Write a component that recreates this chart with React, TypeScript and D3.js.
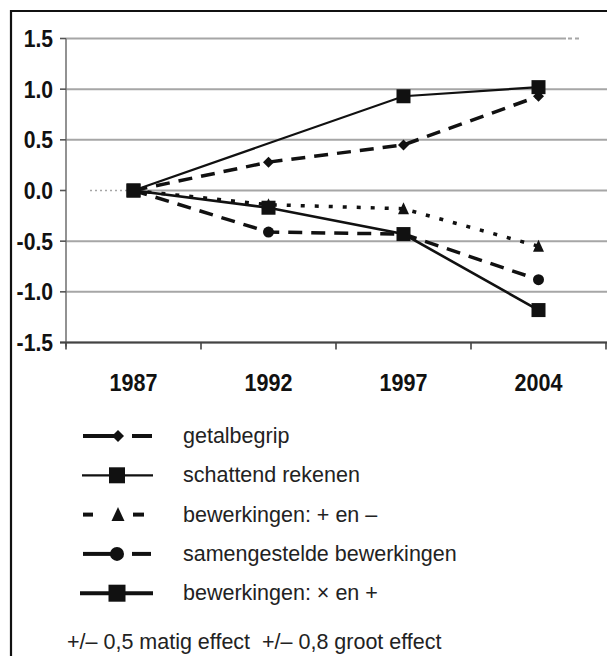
import React from "react";
import * as d3 from "d3";

const years = ["1987", "1992", "1997", "2004"];
const yTicks = [1.5, 1.0, 0.5, 0.0, -0.5, -1.0, -1.5];

const getalbegrip = [0, 0.28, 0.45, 0.93];
const schattendRekenen: (number | null)[] = [0, null, 0.93, 1.02];
const bewerkingenPlusMin = [0, -0.14, -0.18, -0.55];
const samengesteld = [0, -0.41, -0.43, -0.88];
const bewerkingenMaalDeel = [0, -0.17, -0.43, -1.18];

const seriesNames = [
  "getalbegrip",
  "schattend rekenen",
  "bewerkingen: + en \u2013",
  "samengestelde bewerkingen",
  "bewerkingen: \u00d7 en +",
];
const footer = "+/\u2013 0,5 matig effect\u00a0\u00a0+/\u2013 0,8 groot effect";

type Marker = "diamond" | "square" | "triangle" | "circle";
interface Style { dash: string; width: number; marker: Marker; msize: number }

const styles: Style[] = [
  { dash: "14,9", width: 3.5, marker: "diamond", msize: 11 },
  { dash: "", width: 2.2, marker: "square", msize: 14 },
  { dash: "4,10", width: 3.5, marker: "triangle", msize: 11 },
  { dash: "14,9", width: 3.5, marker: "circle", msize: 11 },
  { dash: "", width: 2.6, marker: "square", msize: 14 },
];
const seriesValues = [getalbegrip, schattendRekenen, bewerkingenPlusMin, samengesteld, bewerkingenMaalDeel];

const INK = "#111";
const GRID = "#a6a6a6";

function MarkerShape({ type, x, y, s }: { type: Marker; x: number; y: number; s: number }) {
  const h = s / 2;
  if (type === "square") return <rect x={x - h} y={y - h} width={s} height={s} fill={INK} />;
  if (type === "circle") return <circle cx={x} cy={y} r={h} fill={INK} />;
  if (type === "diamond")
    return <path d={`M${x},${y - h}L${x + h},${y}L${x},${y + h}L${x - h},${y}Z`} fill={INK} />;
  return <path d={`M${x},${y - h - 1}L${x + h},${y + h}L${x - h},${y + h}Z`} fill={INK} />;
}

export default function App() {
  const x = d3.scaleBand<string>().domain(years).range([66, 606]).padding(0);
  const y = d3.scaleLinear().domain([-1.5, 1.5]).range([342.5, 38.5]);
  const cx = (yr: string) => (x(yr) as number) + x.bandwidth() / 2;
  const bounds = [...years.map((yr) => x(yr) as number), 606];

  const line = d3
    .line<[string, number]>()
    .x((d) => cx(d[0]))
    .y((d) => y(d[1]));

  const font = "'Liberation Sans', Arial, sans-serif";
  const legendY = (i: number) => 436 + i * 39.3;
  const COND = 0.88;

  return (
    <svg width={607} height={656} style={{ position: "absolute", left: 0, top: 0, background: "#fff" }}>
      <rect x={0} y={0} width={607} height={656} fill="#fff" />
      {/* frame (cropped on right and bottom) */}
      <path d="M11,660V11H612" fill="none" stroke={INK} strokeWidth={2.2} />

      {/* gridlines */}
      {yTicks.map((t) =>
        t === 0 ? (
          <g key={"g" + t}>
            <line x1={90} x2={128} y1={y(t)} y2={y(t)} stroke={GRID} strokeWidth={1.5} strokeDasharray="2,3" />
            <line x1={134} x2={607} y1={y(t)} y2={y(t)} stroke={GRID} strokeWidth={2} />
          </g>
        ) : (
          <line
            key={"g" + t}
            x1={66}
            x2={t === 1.5 ? 566 : 607}
            y1={y(t)}
            y2={y(t)}
            stroke={GRID}
            strokeWidth={2}
          />
        )
      )}
      <line x1={568} x2={582} y1={y(1.5)} y2={y(1.5)} stroke={GRID} strokeWidth={2} strokeDasharray="4,3" />
      {/* y axis */}
      <line x1={66} x2={66} y1={y(1.5)} y2={y(-1.5) + 4} stroke="#777" strokeWidth={1.6} />
      {yTicks.map((t) => (
        <line key={"yt" + t} x1={60} x2={66} y1={y(t)} y2={y(t)} stroke="#555" strokeWidth={1.6} />
      ))}
      {yTicks.map((t) => (
        <g key={"yl" + t} transform={`translate(53,${y(t)}) scale(${COND},1)`}>
          <text
            x={0}
            y={0}
            dy="0.36em"
            textAnchor="end"
            fontFamily={font}
            fontWeight="bold"
            fontSize={24}
            fill={INK}
          >
            {d3.format(".1f")(t).replace("\u2212", "-")}
          </text>
        </g>
      ))}
      {/* x axis */}
      <line x1={60} x2={607} y1={y(-1.5)} y2={y(-1.5)} stroke="#444" strokeWidth={2} />
      {bounds.map((b, i) => (
        <line key={"xt" + i} x1={b} x2={b} y1={y(-1.5)} y2={y(-1.5) + 7} stroke="#444" strokeWidth={1.6} />
      ))}
      {years.map((yr) => (
        <g key={"xl" + yr} transform={`translate(${cx(yr)},391) scale(${COND},1)`}>
          <text x={0} y={0} textAnchor="middle" fontFamily={font} fontWeight="bold" fontSize={24.5} fill={INK}>
            {yr}
          </text>
        </g>
      ))}

      {/* series */}
      {seriesValues.map((vals, si) => {
        const pts = years
          .map((yr, i) => [yr, vals[i]] as [string, number | null])
          .filter((d) => d[1] !== null) as [string, number][];
        const st = styles[si];
        return (
          <g key={"s" + si}>
            <path
              d={line(pts) || ""}
              fill="none"
              stroke={INK}
              strokeWidth={st.width}
              strokeDasharray={st.dash || undefined}
            />
            {pts.map((p, i) => (
              <MarkerShape key={i} type={st.marker} x={cx(p[0])} y={y(p[1])} s={st.msize} />
            ))}
          </g>
        );
      })}

      {/* legend */}
      {seriesNames.map((name, i) => {
        const ly = legendY(i);
        let sym: React.ReactNode = null;
        if (i === 0)
          sym = (
            <g>
              <line x1={83} x2={114} y1={ly} y2={ly} stroke={INK} strokeWidth={4} />
              <line x1={132} x2={152} y1={ly} y2={ly} stroke={INK} strokeWidth={4} />
              <MarkerShape type="diamond" x={118} y={ly} s={12} />
            </g>
          );
        else if (i === 1)
          sym = (
            <g>
              <line x1={82} x2={153} y1={ly} y2={ly} stroke={INK} strokeWidth={2.2} />
              <MarkerShape type="square" x={117} y={ly} s={16} />
            </g>
          );
        else if (i === 2)
          sym = (
            <g>
              <line x1={83} x2={93} y1={ly} y2={ly} stroke={INK} strokeWidth={4} />
              <line x1={133} x2={144} y1={ly} y2={ly} stroke={INK} strokeWidth={4} />
              <MarkerShape type="triangle" x={118} y={ly} s={13} />
            </g>
          );
        else if (i === 3)
          sym = (
            <g>
              <line x1={83} x2={112} y1={ly} y2={ly} stroke={INK} strokeWidth={4} />
              <line x1={132} x2={151} y1={ly} y2={ly} stroke={INK} strokeWidth={4} />
              <MarkerShape type="circle" x={117} y={ly} s={14} />
            </g>
          );
        else
          sym = (
            <g>
              <line x1={80} x2={153} y1={ly} y2={ly} stroke={INK} strokeWidth={4} />
              <MarkerShape type="square" x={117} y={ly} s={17} />
            </g>
          );
        return (
          <g key={"l" + i}>
            {sym}
            <text x={183} y={ly + 7} fontFamily={font} fontSize={21.5} fill="#222">
              {name}
            </text>
          </g>
        );
      })}
      <text x={67} y={649} fontFamily={font} fontSize={21.5} fill="#222">
        {footer}
      </text>
    </svg>
  );
}
